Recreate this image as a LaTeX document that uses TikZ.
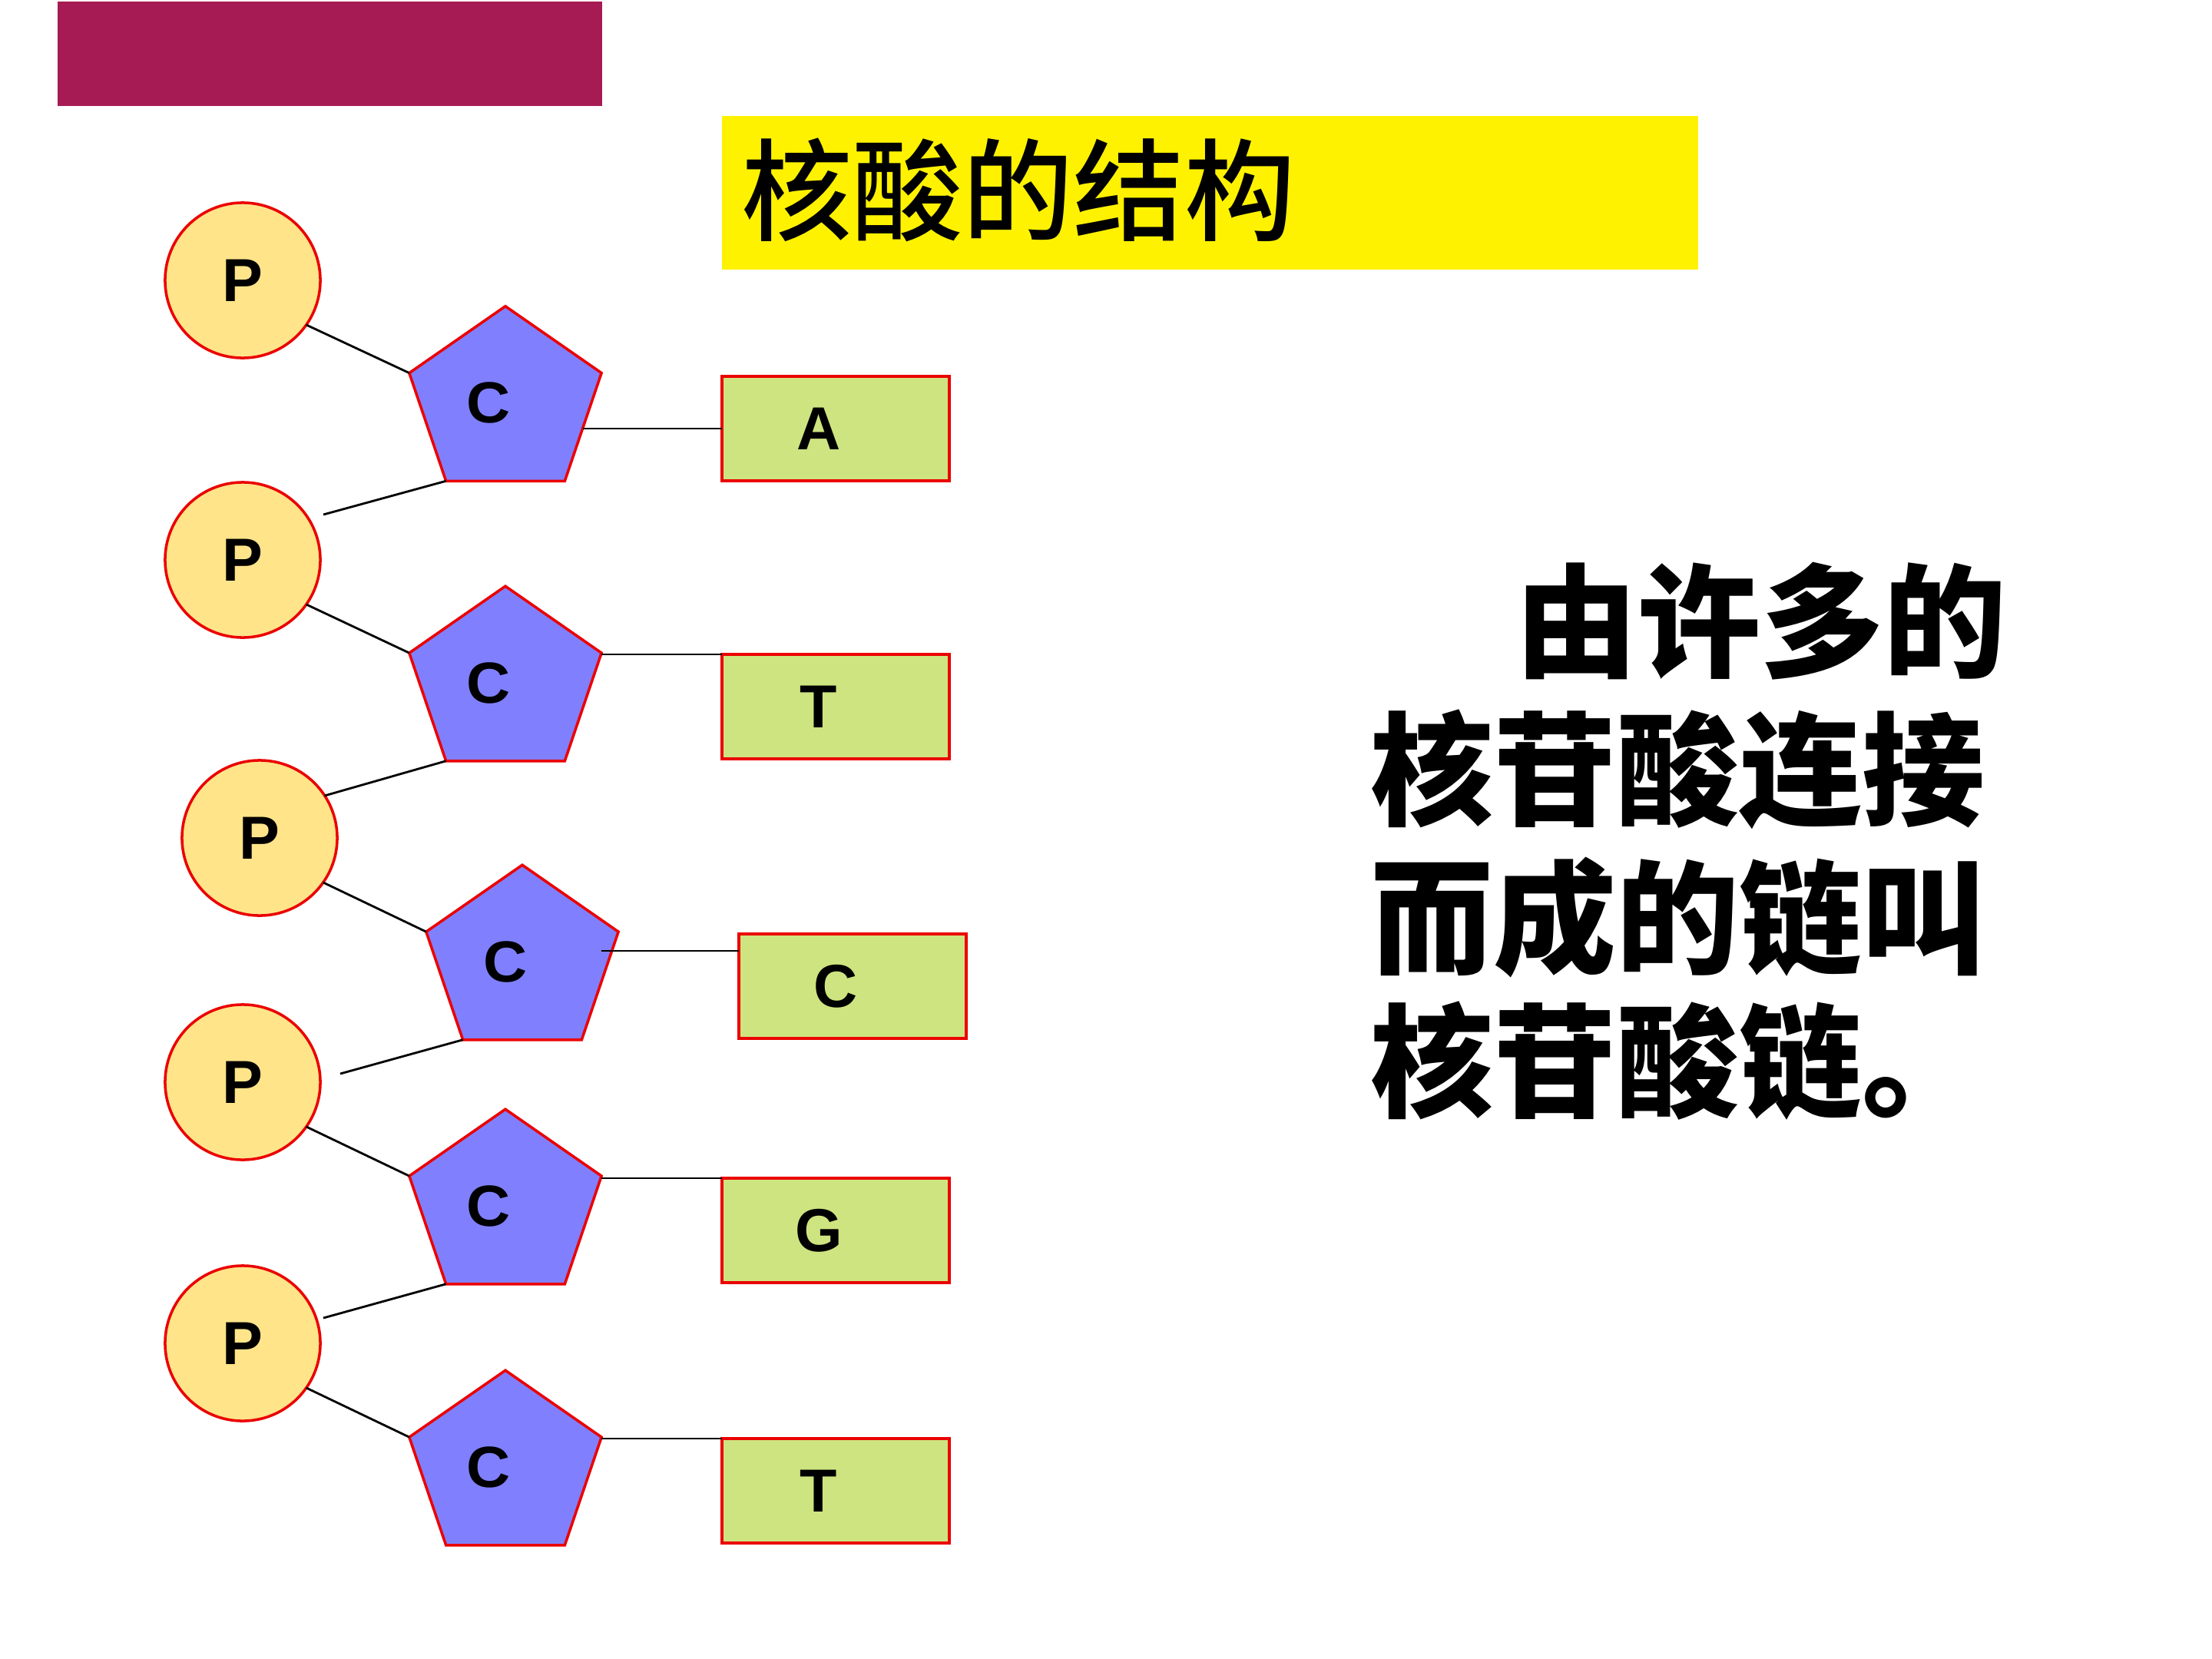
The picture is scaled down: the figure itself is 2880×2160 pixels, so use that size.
\documentclass[tikz,border=0pt]{standalone}
\usepackage{fontspec}
\setmainfont{Liberation Sans}
\newfontfamily\cjk{Noto Sans CJK SC}
\newfontfamily\cjkm{Noto Sans CJK SC Medium}
\usetikzlibrary{shapes.geometric,calc}
\definecolor{barc}{RGB}{167,27,84}
\definecolor{pfill}{RGB}{255,228,138}
\definecolor{sfill}{RGB}{128,128,255}
\definecolor{bfill}{RGB}{206,228,128}
\definecolor{edgec}{RGB}{235,0,0}
\tikzset{
  letter/.style={font=\fontsize{22.5}{26}\selectfont\bfseries},
  phos/.style={circle, draw=edgec, fill=pfill, line width=1pt, minimum size=2.02cm, inner sep=0pt, outer sep=0pt, letter},
  sugar/.style={regular polygon, regular polygon sides=5, draw=edgec, fill=sfill, line width=1pt, minimum size=2.63cm, inner sep=0pt, outer sep=0pt, yscale=0.956, transform shape, letter},
  basebox/.style={rectangle, draw=edgec, fill=bfill, line width=1pt, minimum width=2.96cm, minimum height=1.36cm, inner sep=0pt, outer sep=0pt, letter},
  bond/.style={black, line width=0.8pt},
  bigtext/.style={anchor=base west, inner sep=0pt, font=\cjk\bfseries\fontsize{45.5}{54}\selectfont},
}
\newcommand{\shl}[1]{#1\hspace*{0.44cm}}
\begin{document}
\begin{tikzpicture}[x=0.01cm,y=-0.01cm]
\useasboundingbox (0,0) rectangle (2880,2160);
\fill[white] (0,0) rectangle (2880,2160);
% header bar
\node[fill=barc, minimum width=7.09cm, minimum height=1.36cm, inner sep=0pt, outer sep=0pt] (bar) at (429.5,70) {};
% title box
\node[fill=yellow, minimum width=12.71cm, minimum height=2.0cm, inner sep=0pt, outer sep=0pt] (tbox) at (1575.5,251) {};
\node[anchor=west, inner sep=0pt, font=\cjkm\fontsize{41}{48}\selectfont] (title) at ($(tbox.west)+(25,-4)$) {核酸的结构};
% phosphates
\node[phos] (p1) at (316,365) {P};
\node[phos] (p2) at (316,729) {P};
\node[phos] (p3) at (338,1091) {P};
\node[phos] (p4) at (316,1409) {P};
\node[phos] (p5) at (316,1749) {P};
% sugars
\node[sugar] (s1) at (658,524.5) {\shl{C}};
\node[sugar] (s2) at (658,889) {\shl{C}};
\node[sugar] (s3) at (680,1252) {\shl{C}};
\node[sugar] (s4) at (658,1570) {\shl{C}};
\node[sugar] (s5) at (658,1910) {\shl{C}};
% bases
\node[basebox] (r1) at (1088,558) {\shl{A}};
\node[basebox] (r2) at (1088,920) {\shl{T}};
\node[basebox] (r3) at (1110,1284) {\shl{C}};
\node[basebox] (r4) at (1088,1602) {\shl{G}};
\node[basebox] (r5) at (1088,1941) {\shl{T}};
% free ends
\coordinate (e2) at ($(p2)+(105,-59)$);
\coordinate (e4) at ($(p4)+(127,-11)$);
\coordinate (e5) at ($(p5)+(105,-33)$);
\coordinate (c3a) at ($(r3.north west)+(0,22)$);
\coordinate (c3b) at ($(s3.corner 5 |- r3.north west)+(-22,22)$);
% backbone bonds
\draw[bond] (p1.-35) -- (s1.corner 2);
\draw[bond] (s1.corner 3) -- (e2);
\draw[bond] (p2.-35) -- (s2.corner 2);
\draw[bond] (s2.corner 3) -- (p3.33);
\draw[bond] (p3.-35) -- (s3.corner 2);
\draw[bond] (s3.corner 3) -- (e4);
\draw[bond] (p4.-35) -- (s4.corner 2);
\draw[bond] (s4.corner 3) -- (e5);
\draw[bond] (p5.-35) -- (s5.corner 2);
% base bonds
\draw[bond] (s1.side 4 |- r1.west) -- (r1.west);
\draw[bond] (s2.corner 5 |- r2.north west) -- (r2.north west);
\draw[bond] (c3b) -- (c3a);
\draw[bond] (s4.corner 5 |- r4.north west) -- (r4.north west);
\draw[bond] (s5.corner 5 |- r5.north west) -- (r5.north west);
% explanation text
\node[bigtext] (t1) at (1972,869) {由许多的};
\node[bigtext] (t2) at (1784,1062) {核苷酸连接};
\node[bigtext] (t3) at (1784,1255) {而成的链叫};
\node[bigtext] (t4) at (1784,1442) {核苷酸链。};
\end{tikzpicture}
\end{document}
